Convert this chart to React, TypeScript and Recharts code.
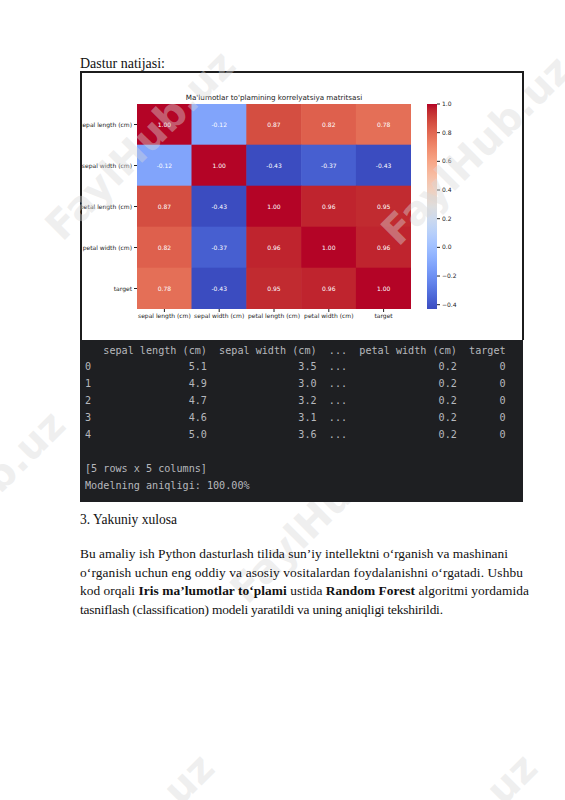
import React from 'react';
import { ScatterChart, Scatter, XAxis, YAxis, BarChart, Bar } from 'recharts';

// ---------- data ----------
const FEATURES = ['sepal length (cm)', 'sepal width (cm)', 'petal length (cm)', 'petal width (cm)', 'target'];
const CORR_SEPAL_LENGTH = [1.0, -0.12, 0.87, 0.82, 0.78];
const CORR_SEPAL_WIDTH = [-0.12, 1.0, -0.43, -0.37, -0.43];
const CORR_PETAL_LENGTH = [0.87, -0.43, 1.0, 0.96, 0.95];
const CORR_PETAL_WIDTH = [0.82, -0.37, 0.96, 1.0, 0.96];
const CORR_TARGET = [0.78, -0.43, 0.95, 0.96, 1.0];
const CORR_ROWS = [CORR_SEPAL_LENGTH, CORR_SEPAL_WIDTH, CORR_PETAL_LENGTH, CORR_PETAL_WIDTH, CORR_TARGET];
const COLORBAR_TICKS = [-0.4, -0.2, 0.0, 0.2, 0.4, 0.6, 0.8, 1.0];
const AXIS_POSITIONS = [0, 1, 2, 3, 4];

const SAMPLE_INDEX = [0, 1, 2, 3, 4];
const SEPAL_LENGTH = [5.1, 4.9, 4.7, 4.6, 5.0];
const SEPAL_WIDTH = [3.5, 3.0, 3.2, 3.1, 3.6];
const PETAL_WIDTH = [0.2, 0.2, 0.2, 0.2, 0.2];
const TARGET = [0, 0, 0, 0, 0];
const ACCURACY = 100.0;

const TITLE = "Ma'lumotlar to'plamining korrelyatsiya matritsasi";

// ---------- colormap (coolwarm) ----------
const COOLWARM: [number, number, number, number][] = [
  [0, 59, 76, 192], [0.03125, 68, 90, 204], [0.0625, 77, 104, 215], [0.09375, 87, 117, 225],
  [0.125, 98, 130, 234], [0.15625, 108, 142, 241], [0.1875, 119, 154, 247], [0.21875, 130, 165, 251],
  [0.25, 141, 176, 254], [0.28125, 152, 185, 255], [0.3125, 163, 194, 255], [0.34375, 174, 201, 253],
  [0.375, 184, 208, 249], [0.40625, 194, 213, 244], [0.4375, 204, 217, 238], [0.46875, 213, 219, 230],
  [0.5, 221, 221, 221], [0.53125, 229, 216, 209], [0.5625, 236, 211, 197], [0.59375, 241, 204, 185],
  [0.625, 245, 196, 173], [0.65625, 247, 187, 160], [0.6875, 247, 177, 148], [0.71875, 247, 166, 135],
  [0.75, 244, 154, 123], [0.78125, 241, 141, 111], [0.8125, 236, 127, 99], [0.84375, 229, 112, 88],
  [0.875, 222, 96, 77], [0.90625, 213, 80, 66], [0.9375, 203, 62, 56], [0.96875, 192, 40, 47],
  [1, 180, 4, 38],
];
function coolwarm(t: number): string {
  const c = Math.max(0, Math.min(1, t));
  for (let i = 1; i < COOLWARM.length; i++) {
    const a = COOLWARM[i - 1];
    const b = COOLWARM[i];
    if (c <= b[0]) {
      const f = (c - a[0]) / (b[0] - a[0]);
      const r = Math.round(a[1] + (b[1] - a[1]) * f);
      const g = Math.round(a[2] + (b[2] - a[2]) * f);
      const bl = Math.round(a[3] + (b[3] - a[3]) * f);
      return `rgb(${r},${g},${bl})`;
    }
  }
  return 'rgb(180,4,38)';
}

const ALL_VALUES = CORR_ROWS.flat();
const VMIN = Math.min(...ALL_VALUES);
const VMAX = Math.max(...ALL_VALUES);
const norm = (v: number) => (v - VMIN) / (VMAX - VMIN);

const HEATMAP_POINTS = CORR_ROWS.flatMap((row, r) => row.map((v, c) => ({ col: c, row: r, v })));
const COLORBAR_DATA = [{ name: 'cb', range: [VMIN, VMAX] }];

// ---------- layout ----------
const INNER_W = 440;
const INNER_H = 267;
const PLOT_LEFT = 55;
const PLOT_RIGHT = 329;
const PLOT_TOP = 31;
const PLOT_BOTTOM = 236;
const CELL_W = (PLOT_RIGHT - PLOT_LEFT) / FEATURES.length;
const CELL_H = (PLOT_BOTTOM - PLOT_TOP) / FEATURES.length;
const CHART_FONT = 'DejaVu Sans, sans-serif';

const CellShape = (props: any) => {
  const { cx, cy, payload } = props;
  if (cx == null || cy == null) return null;
  return (
    <g>
      <rect x={cx - CELL_W / 2 - 0.3} y={cy - CELL_H / 2 - 0.3} width={CELL_W + 0.6} height={CELL_H + 0.6}
        fill={coolwarm(norm(payload.v))} />
      <text x={cx} y={cy} dy="0.35em" textAnchor="middle" fontSize={6} fontFamily={CHART_FONT} fill="#ffffff">
        {payload.v.toFixed(2)}
      </text>
    </g>
  );
};

const YTick = (props: any) => {
  const { x, y, payload } = props;
  return (
    <text x={x} y={y} dy="0.35em" textAnchor="end" fontSize={6} fontFamily={CHART_FONT} fill="#222">
      {FEATURES[payload.value]}
    </text>
  );
};
const XTick = (props: any) => {
  const { x, y, payload } = props;
  return (
    <text x={x} y={y} dy="0.71em" textAnchor="middle" fontSize={6} fontFamily={CHART_FONT} fill="#222">
      {FEATURES[payload.value]}
    </text>
  );
};

const fmtCb = (v: number) => (v < -1e-9 ? '\u2212' : '') + Math.abs(v).toFixed(1);

// ---------- console text ----------
const pad = (s: string, n: number) => s.padStart(n, ' ');
const CONSOLE_LINES: string[] = [
  ' ' + '  ' + pad(FEATURES[0], 17) + '  ' + pad(FEATURES[1], 16) + '  ...' + '  ' + pad(FEATURES[3], 16) + '  ' + pad(FEATURES[4], 6),
  ...SAMPLE_INDEX.map((i) =>
    String(i) + '  ' + pad(SEPAL_LENGTH[i].toFixed(1), 17) + '  ' + pad(SEPAL_WIDTH[i].toFixed(1), 16) + '  ...' +
    '  ' + pad(PETAL_WIDTH[i].toFixed(1), 16) + '  ' + pad(String(TARGET[i]), 6)),
  '',
  `[${SAMPLE_INDEX.length} rows x ${FEATURES.length} columns]`,
  `Modelning aniqligi: ${ACCURACY.toFixed(2)}%`,
];

// ---------- watermark ----------
const WATERMARKS: [number, number][] = [[140, 145], [476, 150], [325, 508], [-30, 505], [119, 848], [442, 848]];

const SERIF = '"Liberation Serif", "Times New Roman", serif';

export default function App() {
  return (
    <div style={{ position: 'absolute', left: 0, top: 0, width: 565, height: 800, background: '#ffffff', overflow: 'hidden' }}>
      <svg width={0} height={0} style={{ position: 'absolute' }}>
        <defs>
          <linearGradient id="cbGrad" x1="0" y1="1" x2="0" y2="0">
            {COOLWARM.map((s) => (
              <stop key={s[0]} offset={s[0]} stopColor={`rgb(${s[1]},${s[2]},${s[3]})`} />
            ))}
          </linearGradient>
        </defs>
      </svg>

      {/* framed figure */}
      <div style={{
        position: 'absolute', left: 80, top: 71, width: INNER_W, height: INNER_H,
        borderTop: '2px solid #1c1c1c', borderLeft: '2px solid #1c1c1c', borderRight: '2px solid #1c1c1c',
        background: '#ffffff',
      }}>
        <div style={{ position: 'absolute', left: 0, top: 0, width: INNER_W, height: INNER_H, overflow: 'hidden' }}>
          <div style={{
            position: 'absolute', left: 0, width: (PLOT_LEFT + PLOT_RIGHT), top: 20, textAlign: 'center',
            fontFamily: CHART_FONT, fontSize: 7.2, color: '#222', whiteSpace: 'nowrap',
          }}>{TITLE}</div>
          <div style={{ position: 'absolute', left: 0, top: 0 }}>
            <ScatterChart width={INNER_W} height={INNER_H}
              margin={{ top: PLOT_TOP, left: 0, right: INNER_W - PLOT_RIGHT, bottom: INNER_H - PLOT_BOTTOM - 20 }}>
              <XAxis type="number" dataKey="col" domain={[-0.5, 4.5]} ticks={AXIS_POSITIONS} interval={0}
                height={20} tickSize={3} tickMargin={2} axisLine={false} tickLine={{ stroke: '#222' }}
                tick={<XTick />} allowDataOverflow />
              <YAxis type="number" dataKey="row" domain={[-0.5, 4.5]} ticks={AXIS_POSITIONS} interval={0} reversed
                width={PLOT_LEFT} tickSize={3} tickMargin={2} axisLine={false} tickLine={{ stroke: '#222' }}
                tick={<YTick />} allowDataOverflow />
              <Scatter data={HEATMAP_POINTS} shape={CellShape} isAnimationActive={false} />
            </ScatterChart>
          </div>
          <div style={{ position: 'absolute', left: 0, top: 0 }}>
            <BarChart width={INNER_W} height={INNER_H} data={COLORBAR_DATA} barCategoryGap={0}
              margin={{ top: PLOT_TOP, left: 345, right: 45, bottom: INNER_H - PLOT_BOTTOM }}>
              <XAxis dataKey="name" hide />
              <YAxis orientation="right" type="number" domain={[VMIN, VMAX]} ticks={COLORBAR_TICKS} interval={0}
                width={40} tickSize={3} tickMargin={2} axisLine={false} tickLine={{ stroke: '#222' }}
                tick={{ fontSize: 6, fill: '#222', fontFamily: CHART_FONT, textAnchor: 'start' }}
                tickFormatter={fmtCb} allowDataOverflow />
              <Bar dataKey="range" fill="url(#cbGrad)" isAnimationActive={false} />
            </BarChart>
          </div>
        </div>
      </div>

      {/* watermark */}
      <svg width={565} height={800} style={{ position: 'absolute', left: 0, top: 0, pointerEvents: 'none' }}>
        {WATERMARKS.map(([x, y], i) => (
          <text key={i} x={x} y={y} textAnchor="middle" dominantBaseline="central" fontFamily="DejaVu Sans, sans-serif"
            fontWeight="bold" fontSize={40} fill="#d9d9d9" fillOpacity={0.42} transform={`rotate(-45 ${x} ${y})`}>
            FaylHub.uz
          </text>
        ))}
      </svg>

      {/* page text */}
      <svg width={565} height={800} style={{ position: 'absolute', left: 0, top: 0 }}>
        <g fontFamily={SERIF} fill="#111">
          <text x={80} y={67.5} fontSize={14} textLength={85} lengthAdjust="spacingAndGlyphs">Dastur natijasi:</text>
          <text x={80} y={524} fontSize={13.6} textLength={97} lengthAdjust="spacingAndGlyphs">3. Yakuniy xulosa</text>
          <text x={80} y={558} fontSize={13.4} textLength={428} lengthAdjust="spacing">
            Bu amaliy ish Python dasturlash tilida sun’iy intellektni o‘rganish va mashinani
          </text>
          <text x={80} y={576.7} fontSize={13.4} textLength={443} lengthAdjust="spacing">
            o‘rganish uchun eng oddiy va asosiy vositalardan foydalanishni o‘rgatadi. Ushbu
          </text>
          <text x={80} y={595.4} fontSize={13.4} textLength={449} lengthAdjust="spacing">
            kod orqali <tspan fontWeight="bold">Iris ma’lumotlar to‘plami</tspan> ustida <tspan fontWeight="bold">Random Forest</tspan> algoritmi yordamida
          </text>
          <text x={80} y={614} fontSize={13.4} textLength={363} lengthAdjust="spacing">
            tasniflash (classification) modeli yaratildi va uning aniqligi tekshirildi.
          </text>
        </g>
      </svg>

      {/* console */}
      <svg width={443} height={162} style={{ position: 'absolute', left: 80, top: 340 }}>
        <rect x={0} y={0} width={443} height={162} fill="#1e1f22" />
        <g fontFamily='"DejaVu Sans Mono", monospace' fontSize={10.13} fill="#b6b8bd">
          {CONSOLE_LINES.map((line, i) => (
            <text key={i} x={5} y={13.5 + i * 16.9} xmlSpace="preserve" style={{ whiteSpace: 'pre' }}>{line}</text>
          ))}
        </g>
      </svg>
    </div>
  );
}
